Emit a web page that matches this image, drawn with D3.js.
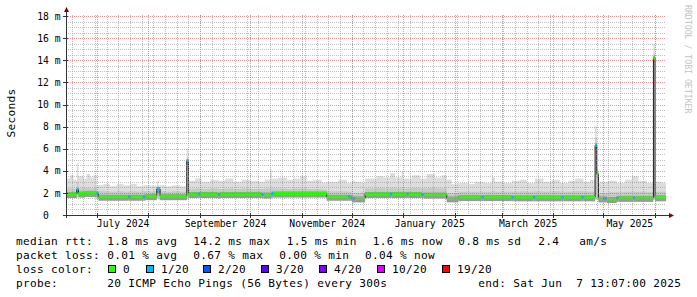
<!DOCTYPE html>
<html>
<head>
<meta charset="utf-8">
<script src="https://cdn.jsdelivr.net/npm/d3@7"></script>
<style>
  body { margin: 0; background: #fff; }
  text { font-family: "DejaVu Sans Mono", monospace; white-space: pre; }
</style>
</head>
<body>
<svg id="chart" width="697" height="297"></svg>
<script>
// ---- data (ms) ----
const medianDates = [
  "2024-06-12", "2024-06-19", "2024-06-20", "2024-06-24", "2024-07-01", "2024-07-02",
  "2024-07-20", "2024-07-21", "2024-07-29", "2024-07-30", "2024-08-06", "2024-08-08",
  "2024-08-24", "2024-08-25", "2024-08-31", "2024-09-01", "2024-09-12", "2024-09-13",
  "2024-10-08", "2024-10-09", "2024-10-14", "2024-10-15", "2024-11-16", "2024-11-29",
  "2024-11-30", "2024-12-01", "2024-12-03", "2024-12-09", "2024-12-24", "2024-12-25",
  "2025-01-03", "2025-01-04", "2025-01-12", "2025-01-13", "2025-01-27", "2025-02-03",
  "2025-02-17", "2025-02-18", "2025-03-07", "2025-03-08", "2025-03-20", "2025-03-21",
  "2025-04-06", "2025-04-07", "2025-04-18", "2025-04-19", "2025-04-26", "2025-04-27",
  "2025-04-28", "2025-05-01", "2025-05-03", "2025-05-09", "2025-05-10", "2025-05-19",
  "2025-05-20", "2025-05-31", "2025-06-01"
];
const medianValues = [
  1.9, 2.3, 1.95, 2.0, 1.95, 1.65,
  1.65, 1.65, 1.65, 1.7, 2.35, 1.7,
  4.9, 1.9, 1.9, 1.9, 1.85, 1.9,
  1.85, 1.85, 1.95, 1.95, 1.65, 1.65,
  1.65, 1.5, 1.5, 1.9, 1.9, 1.9,
  1.9, 1.9, 1.85, 1.85, 1.5, 1.62,
  1.62, 1.62, 1.6, 1.6, 1.6, 1.6,
  1.6, 1.6, 1.6, 1.6, 6.3, 3.7,
  1.5, 1.5, 1.45, 1.55, 1.55, 1.55,
  1.55, 14.2, 1.6
];
const medianLoss = [
  0, 1, 0, 0, 1, 0,
  1, 0, 1, 0, 1, 0,
  1, 0, 1, 0, 1, 0,
  1, 0, 1, 0, 0, 1,
  0, 1, 0, 0, 1, 0,
  1, 0, 1, 0, 0, 0,
  1, 0, 1, 0, 1, 0,
  1, 0, 1, 0, 1, 0,
  0, 1, 0, 1, 0, 1,
  0, 0, 0
];

const smokeDates = [
  "2024-06-12", "2024-06-15", "2024-06-17", "2024-06-19", "2024-06-20", "2024-06-23",
  "2024-06-25", "2024-06-27", "2024-06-29", "2024-07-01", "2024-07-05", "2024-07-09",
  "2024-07-13", "2024-07-17", "2024-07-21", "2024-07-25", "2024-07-29", "2024-08-02",
  "2024-08-06", "2024-08-07", "2024-08-11", "2024-08-15", "2024-08-20", "2024-08-24",
  "2024-08-25", "2024-08-29", "2024-09-02", "2024-09-07", "2024-09-12", "2024-09-16",
  "2024-09-21", "2024-09-26", "2024-10-01", "2024-10-06", "2024-10-10", "2024-10-13",
  "2024-10-14", "2024-10-18", "2024-10-23", "2024-10-27", "2024-10-31", "2024-11-04",
  "2024-11-08", "2024-11-13", "2024-11-16", "2024-11-23", "2024-11-28", "2024-12-01",
  "2024-12-03", "2024-12-07", "2024-12-09", "2024-12-16", "2024-12-20", "2024-12-24",
  "2024-12-27", "2024-12-31", "2025-01-01", "2025-01-06", "2025-01-11", "2025-01-15",
  "2025-01-20", "2025-01-24", "2025-01-27", "2025-01-30", "2025-02-03", "2025-02-09",
  "2025-02-13", "2025-02-18", "2025-02-23", "2025-02-25", "2025-03-02", "2025-03-07",
  "2025-03-12", "2025-03-16", "2025-03-21", "2025-03-26", "2025-03-31", "2025-04-05",
  "2025-04-10", "2025-04-14", "2025-04-19", "2025-04-23", "2025-04-26", "2025-04-27",
  "2025-04-28", "2025-05-04", "2025-05-09", "2025-05-14", "2025-05-18", "2025-05-22",
  "2025-05-27", "2025-05-31", "2025-06-01", "2025-06-05"
];
const smokeMax = [
  3.3, 3.6, 3.2, 4.7, 3.5, 3.3,
  3.7, 3.4, 3.6, 2.7, 2.8, 2.6,
  2.8, 2.7, 2.8, 2.6, 2.7, 2.65,
  3.1, 2.7, 2.6, 2.7, 2.6, 6.0,
  3.1, 3.3, 3.0, 3.2, 3.1, 3.3,
  3.0, 3.2, 3.1, 3.0, 3.2, 4.1,
  3.3, 3.4, 3.2, 3.3, 3.5, 3.1,
  3.2, 2.9, 3.0, 3.2, 2.9, 3.1,
  3.0, 2.9, 3.3, 3.5, 3.4, 3.8,
  3.4, 3.9, 3.3, 3.6, 3.3, 3.7,
  3.4, 3.6, 3.2, 2.8, 2.9, 2.8,
  3.0, 2.9, 3.4, 3.0, 2.9, 3.1,
  3.2, 2.9, 3.3, 3.0, 3.2, 2.9,
  3.1, 3.3, 3.0, 3.2, 8.0, 4.2,
  3.0, 3.1, 2.9, 3.2, 3.5, 3.1,
  2.9, 15.5, 3.0, 2.9
];
const smokeMid = [
  2.4, 2.4, 2.35, 3.0, 2.4, 2.45,
  2.45, 2.4, 2.45, 2.2, 2.15, 2.1,
  2.15, 2.1, 2.15, 2.1, 2.15, 2.1,
  2.6, 2.15, 2.1, 2.15, 2.1, 5.2,
  2.35, 2.4, 2.35, 2.4, 2.35, 2.4,
  2.35, 2.4, 2.35, 2.35, 2.4, 2.6,
  2.4, 2.4, 2.35, 2.4, 2.4, 2.35,
  2.35, 2.3, 2.15, 2.15, 2.1, 2.0,
  2.0, 2.05, 2.4, 2.45, 2.4, 2.45,
  2.4, 2.5, 2.4, 2.45, 2.4, 2.45,
  2.4, 2.4, 2.0, 2.0, 2.1, 2.1,
  2.1, 2.1, 2.15, 2.1, 2.1, 2.1,
  2.15, 2.1, 2.15, 2.1, 2.15, 2.1,
  2.1, 2.15, 2.1, 2.1, 7.0, 3.9,
  2.0, 2.05, 2.05, 2.1, 2.1, 2.1,
  2.05, 14.6, 2.1, 2.1
];
const smokeLow = [
  1.6, 1.6, 1.6, 1.6, 1.6, 1.65,
  1.65, 1.6, 1.6, 1.45, 1.4, 1.4,
  1.4, 1.4, 1.4, 1.4, 1.4, 1.4,
  1.5, 1.4, 1.4, 1.4, 1.4, 1.5,
  1.6, 1.6, 1.6, 1.6, 1.6, 1.6,
  1.6, 1.6, 1.6, 1.6, 1.6, 1.6,
  1.6, 1.6, 1.6, 1.6, 1.6, 1.6,
  1.6, 1.6, 1.4, 1.4, 1.4, 1.3,
  1.3, 1.3, 1.6, 1.6, 1.6, 1.6,
  1.6, 1.6, 1.6, 1.6, 1.6, 1.6,
  1.6, 1.6, 1.3, 1.3, 1.35, 1.35,
  1.35, 1.35, 1.35, 1.35, 1.35, 1.35,
  1.35, 1.35, 1.35, 1.35, 1.35, 1.35,
  1.35, 1.35, 1.35, 1.35, 1.4, 1.4,
  1.25, 1.25, 1.3, 1.35, 1.35, 1.35,
  1.35, 1.4, 1.35, 1.35
];

const yTicks = [0, 2, 4, 6, 8, 10, 12, 14, 16, 18];
const yTickLabels = ["0  ", "2 m", "4 m", "6 m", "8 m", "10 m", "12 m", "14 m", "16 m", "18 m"];
const monthLabels = ["July 2024", "September 2024", "November 2024", "January 2025", "March 2025", "May 2025"];
const monthLabelDates = ["2024-07-16T12:00", "2024-09-16T00:00", "2024-11-16T00:00", "2025-01-16T12:00", "2025-03-16T12:00", "2025-05-16T12:00"];

const lossLevels = [0, 1, 2, 3, 4, 10, 19];
const lossNames = ["0", "1/20", "2/20", "3/20", "4/20", "10/20", "19/20"];
const lossColors = ["#26ff00", "#00b8ff", "#0059ff", "#5e00ff", "#7e00ff", "#dd00ff", "#ff0000"];

const legendRtt = ["median rtt:", "1.8 ms avg", "14.2 ms max", "1.5 ms min", "1.6 ms now", "0.8 ms sd", "2.4", "am/s"];
const legendLoss = ["packet loss:", "0.01 % avg", "0.67 % max", "0.00 % min", "0.04 % now"];
const legendProbe = ["probe:", "20 ICMP Echo Pings (56 Bytes) every 300s", "end: Sat Jun  7 13:07:00 2025"];

// ---- layout ----
const svg = d3.select("#chart");
const plotLeft = 66, plotRight = 666, plotBottom = 215, plotTop = 15;
const start = new Date(2024, 5, 12, 13, 7);
const end = new Date(2025, 5, 7, 13, 7);
const parse = d3.timeParse("%Y-%m-%d");
const parseT = d3.timeParse("%Y-%m-%dT%H:%M");

const x = d3.scaleTime().domain([start, end]).range([plotLeft, plotRight]);
const y = d3.scaleLinear().domain([0, 18.1]).range([plotBottom, plotTop]);
const lossColor = d3.scaleThreshold().domain(lossLevels.slice(1)).range(lossColors);

svg.append("defs").append("clipPath").attr("id", "plot")
  .append("rect").attr("x", plotLeft).attr("y", 0).attr("width", plotRight - plotLeft).attr("height", plotBottom);

const dataG = svg.append("g").attr("clip-path", "url(#plot)");

// smoke
const smoke = smokeDates.map((d, i) => ({ date: parse(d), max: smokeMax[i], mid: smokeMid[i], low: smokeLow[i] }));
smoke.push({ ...smoke[smoke.length - 1], date: end });

dataG.append("path").datum(smoke)
  .attr("fill", "#dddddd")
  .attr("d", d3.area().curve(d3.curveStepAfter).x(d => x(d.date)).y0(d => y(d.low)).y1(d => y(d.max)));

dataG.append("path").datum(smoke)
  .attr("fill", "#c8c8c8")
  .attr("d", d3.area().curve(d3.curveStepAfter).x(d => x(d.date)).y0(d => y(d.low)).y1(d => y(d.mid)));

// median
const med = medianDates.map((d, i) => ({ date: parse(d), v: medianValues[i], loss: medianLoss[i] }));
const steps = med.map((d, i) => ({ ...d, next: i < med.length - 1 ? med[i + 1].date : end }));

// darker core of the smoke right around the median
dataG.selectAll("rect.core").data(steps).enter().append("rect")
  .attr("class", "core")
  .attr("x", d => x(d.date))
  .attr("width", d => x(d.next) - x(d.date))
  .attr("y", d => y(d.v) - 2)
  .attr("height", 6)
  .attr("fill", "#999");

dataG.append("path").datum(med.concat([{ ...med[med.length - 1], date: end }]))
  .attr("fill", "none")
  .attr("stroke", "#202020")
  .attr("stroke-width", 1)
  .attr("d", d3.line().curve(d3.curveStepAfter).x(d => x(d.date)).y(d => y(d.v)));

dataG.selectAll("line.med").data(steps).enter().append("line")
  .attr("class", "med")
  .attr("x1", d => x(d.date))
  .attr("x2", d => x(d.next))
  .attr("y1", d => y(d.v))
  .attr("y2", d => y(d.v))
  .attr("stroke", d => lossColor(d.loss))
  .attr("stroke-width", 3);

// grid (rrdtool paints it over the graph, semi transparent)
const grid = svg.append("g");
const minorColor = "rgba(150,150,150,0.6)";
const majorColor = "rgba(230,100,100,0.7)";
const minorH = d3.range(0.5, 18.01, 0.5).filter(v => v % 2 !== 0);
grid.selectAll("line.mh").data(minorH).enter().append("line")
  .attr("x1", plotLeft).attr("x2", plotRight)
  .attr("y1", d => Math.round(y(d)) + 0.5).attr("y2", d => Math.round(y(d)) + 0.5)
  .attr("stroke", minorColor).attr("stroke-dasharray", "1,1");

const weeks = d3.timeWeek.range(start, end);
grid.selectAll("line.mv").data(weeks).enter().append("line")
  .attr("x1", d => Math.round(x(d)) + 0.5).attr("x2", d => Math.round(x(d)) + 0.5)
  .attr("y1", plotTop).attr("y2", plotBottom)
  .attr("stroke", minorColor).attr("stroke-dasharray", "1,1");

grid.selectAll("line.Mh").data(yTicks.slice(1)).enter().append("line")
  .attr("x1", plotLeft).attr("x2", plotRight)
  .attr("y1", d => Math.round(y(d)) + 0.5).attr("y2", d => Math.round(y(d)) + 0.5)
  .attr("stroke", majorColor).attr("stroke-dasharray", "1,1");

const months = d3.timeMonth.range(start, end);
grid.selectAll("line.Mv").data(months).enter().append("line")
  .attr("x1", d => Math.round(x(d)) + 0.5).attr("x2", d => Math.round(x(d)) + 0.5)
  .attr("y1", plotTop).attr("y2", plotBottom)
  .attr("stroke", majorColor).attr("stroke-dasharray", "1,1");

// axis ticks
const axisColor = "#333";
grid.selectAll("line.tx").data(months).enter().append("line")
  .attr("x1", d => Math.round(x(d)) + 0.5).attr("x2", d => Math.round(x(d)) + 0.5)
  .attr("y1", plotBottom - 2).attr("y2", plotBottom + 3).attr("stroke", axisColor);
grid.selectAll("line.ty").data(yTicks).enter().append("line")
  .attr("x1", plotLeft - 3).attr("x2", plotLeft + 2)
  .attr("y1", d => Math.round(y(d)) + 0.5).attr("y2", d => Math.round(y(d)) + 0.5)
  .attr("stroke", axisColor);

// axes lines + arrows
svg.append("line").attr("x1", plotLeft - 3).attr("x2", plotRight + 3)
  .attr("y1", plotBottom + 0.5).attr("y2", plotBottom + 0.5).attr("stroke", axisColor);
svg.append("line").attr("x1", plotLeft + 0.5).attr("x2", plotLeft + 0.5)
  .attr("y1", plotBottom + 3).attr("y2", plotTop - 4).attr("stroke", axisColor);
svg.append("path").attr("fill", "#7f0000")
  .attr("d", `M${plotLeft + 0.5},${plotTop - 8}L${plotLeft + 3},${plotTop - 3}L${plotLeft - 2},${plotTop - 3}Z`);
svg.append("path").attr("fill", "#7f0000")
  .attr("d", `M${plotRight + 8},${plotBottom + 0.5}L${plotRight + 3},${plotBottom - 2}L${plotRight + 3},${plotBottom + 3}Z`);

// axis labels through d3 axes
const yAxis = svg.append("g").attr("transform", `translate(${plotLeft},0)`)
  .call(d3.axisLeft(y).tickValues(yTicks).tickFormat((d, i) => yTickLabels[i]).tickSize(0).tickPadding(5.5));
const xAxis = svg.append("g").attr("transform", `translate(0,${plotBottom})`)
  .call(d3.axisBottom(x).tickValues(monthLabelDates.map(parseT)).tickFormat((d, i) => monthLabels[i]).tickSize(0).tickPadding(5));
[yAxis, xAxis].forEach(a => {
  a.select(".domain").remove();
  a.selectAll("text").attr("font-family", "DejaVu Sans Mono").attr("font-size", 9.7).attr("fill", "#000");
});

svg.append("text")
  .attr("transform", "translate(14.5,113) rotate(-90)")
  .attr("text-anchor", "middle")
  .attr("font-size", 11.1).attr("letter-spacing", 0.3)
  .text("Seconds");

svg.append("text")
  .attr("transform", "translate(685,5) rotate(90)")
  .attr("font-size", 8.2).attr("fill", "#c4c4c4")
  .text("RRDTOOL / TOBI OETIKER");

// legend
const legend = svg.append("g").attr("font-size", 11.1).attr("letter-spacing", 0.32).attr("fill", "#000");
const rttX = [16, 107.3, 193.3, 286.7, 372.7, 458.3, 538.3, 579.3];
const lossX = [16, 107.3, 193.3, 279.3, 365];
const probeX = [16, 107.3, 478.3];
const boxX = [108, 146, 203, 261, 319, 377, 442];

legend.selectAll("text.r").data(legendRtt).enter().append("text")
  .attr("x", (d, i) => rttX[i]).attr("y", 245).text(d => d);
legend.selectAll("text.l").data(legendLoss).enter().append("text")
  .attr("x", (d, i) => lossX[i]).attr("y", 259).text(d => d);
legend.append("text").attr("x", 16).attr("y", 273).text("loss color:");
legend.selectAll("rect.b").data(lossNames).enter().append("rect")
  .attr("x", (d, i) => boxX[i] + 0.5).attr("y", 265.5).attr("width", 7).attr("height", 7)
  .attr("fill", (d, i) => lossColors[i]).attr("stroke", "#000");
legend.selectAll("text.c").data(lossNames).enter().append("text")
  .attr("x", (d, i) => boxX[i] + 15).attr("y", 273).text(d => d);
legend.selectAll("text.p").data(legendProbe).enter().append("text")
  .attr("x", (d, i) => probeX[i]).attr("y", 287).text(d => d);
</script>
</body>
</html>
